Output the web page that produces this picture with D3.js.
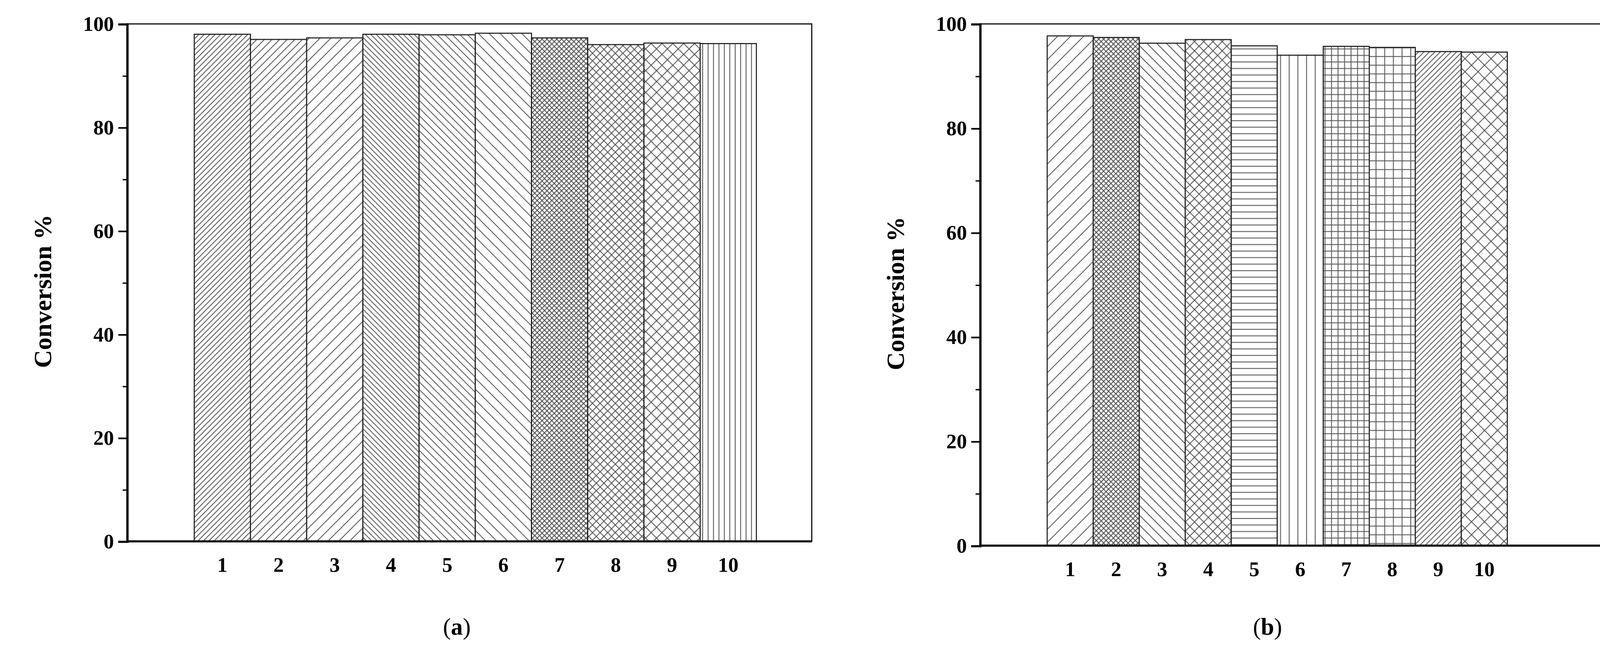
<!DOCTYPE html>
<html><head><meta charset="utf-8">
<script src="https://cdnjs.cloudflare.com/ajax/libs/d3/7.8.5/d3.min.js"></script>
<style>html,body{margin:0;background:#fff;overflow:hidden}svg{display:block}</style>
</head><body>
<svg id="canvas" width="4356" height="1663" viewBox="0 0 1568 598" preserveAspectRatio="none"></svg>
<script>
var categories = ['1', '2', '3', '4', '5', '6', '7', '8', '9', '10']
var valuesA = [98.0, 97.0, 97.3, 98.0, 97.9, 98.2, 97.3, 96.0, 96.3, 96.2]
var valuesB = [97.7, 97.4, 96.3, 97.0, 95.8, 94.0, 95.7, 95.5, 94.7, 94.6]
var yTicks = [0, 20, 40, 60, 80, 100]
// pattern kind and spacing per bar
var patternsA = [['f', 5], ['f', 7], ['f', 10], ['b', 5], ['b', 7], ['b', 10], ['x', 4.5], ['x', 7], ['x', 10], ['v', 5]]
var patternsB = [['f', 12], ['x', 4.5], ['b', 9], ['x', 8.5], ['h', 6], ['v', 8], ['g', 6], ['g', 8], ['f', 5], ['x', 12]]

var svg = d3.select('#canvas')
var defs = svg.append('defs')

function makePattern (id, kind, s) {
  var p = defs.append('pattern').attr('id', id).attr('patternUnits', 'userSpaceOnUse')
    .attr('width', s).attr('height', s)
  p.append('rect').attr('width', s).attr('height', s).attr('fill', '#fff')
  function ln (x1, y1, x2, y2) {
    p.append('line').attr('x1', x1).attr('y1', y1).attr('x2', x2).attr('y2', y2)
      .attr('stroke', '#555').attr('stroke-width', 0.8)
  }
  if (kind === 'f' || kind === 'x') { ln(0, s, s, 0); ln(-s, s, s, -s); ln(0, 2 * s, 2 * s, 0) }
  if (kind === 'b' || kind === 'x') { ln(0, 0, s, s); ln(-s, 0, s, 2 * s); ln(0, -s, 2 * s, s) }
  if (kind === 'v' || kind === 'g') ln(s / 2, 0, s / 2, s)
  if (kind === 'h' || kind === 'g') ln(0, s / 2, s, s / 2)
}

function drawPanel (cfg) {
  var g = svg.append('g')
  var y = d3.scaleLinear().domain([0, 100]).range([cfg.bottom, cfg.top])
  var x = d3.scaleBand().domain(categories).range([cfg.barL, cfg.barR]).padding(0)
  cfg.patterns.forEach(function (p, i) { makePattern(cfg.id + i, p[0], p[1]) })

  g.selectAll('rect.bar').data(cfg.values).enter().append('rect')
    .attr('x', function (d, i) { return x(categories[i]) })
    .attr('y', function (d) { return y(d) })
    .attr('width', x.bandwidth())
    .attr('height', function (d) { return cfg.bottom - y(d) })
    .attr('fill', function (d, i) { return 'url(#' + cfg.id + i + ')' })
    .attr('stroke', '#222').attr('stroke-width', 1)

  g.append('rect').attr('x', cfg.left).attr('y', cfg.top)
    .attr('width', cfg.right - cfg.left).attr('height', cfg.bottom - cfg.top)
    .attr('fill', 'none').attr('stroke', '#222').attr('stroke-width', 1.2)

  var ax = g.append('g').attr('transform', 'translate(' + cfg.left + ',0)')
    .call(d3.axisLeft(y).tickValues(yTicks).tickSize(8).tickPadding(4))
  ax.select('.domain').attr('stroke-width', 2)
  ax.selectAll('line').attr('stroke-width', 1.5)
  ax.selectAll('text').attr('font-family', 'Liberation Serif').attr('font-weight', 'bold').attr('font-size', 19)
  g.append('g').attr('transform', 'translate(' + cfg.left + ',0)')
    .call(d3.axisLeft(y).tickValues(d3.range(10, 100, 20)).tickSize(4).tickFormat(''))
    .call(function (s) { s.select('.domain').remove(); s.selectAll('line').attr('stroke-width', 1.2) })

  g.append('line').attr('x1', cfg.left).attr('x2', cfg.right).attr('y1', cfg.bottom).attr('y2', cfg.bottom)
    .attr('stroke', '#111').attr('stroke-width', 2)

  g.selectAll('text.cat').data(categories).enter().append('text')
    .attr('x', function (d) { return x(d) + x.bandwidth() / 2 })
    .attr('y', cfg.bottom + 28)
    .attr('text-anchor', 'middle')
    .attr('font-family', 'Liberation Serif').attr('font-weight', 'bold').attr('font-size', 19)
    .text(function (d) { return d })

  g.append('text')
    .attr('transform', 'translate(' + (cfg.left - 70) + ',' + ((cfg.top + cfg.bottom) / 2 + 8) + ') rotate(-90)')
    .attr('text-anchor', 'middle')
    .attr('font-family', 'Liberation Serif').attr('font-weight', 'bold').attr('font-size', 23)
    .text('Conversion %')

  var lab = g.append('text').attr('x', cfg.labelX).attr('y', 584).attr('text-anchor', 'middle')
    .attr('font-family', 'Liberation Serif').attr('font-size', 22)
  lab.append('tspan').text('(')
  lab.append('tspan').attr('font-weight', 'bold').text(cfg.label)
  lab.append('tspan').text(')')
}

drawPanel({ id: 'pa', values: valuesA, patterns: patternsA, left: 117, right: 748, top: 22, bottom: 498, barL: 179, barR: 697, labelX: 421, label: 'a' })
drawPanel({ id: 'pb', values: valuesB, patterns: patternsB, left: 903, right: 1548, top: 22, bottom: 502, barL: 965, barR: 1389, labelX: 1168, label: 'b' })
</script>
</body></html>
